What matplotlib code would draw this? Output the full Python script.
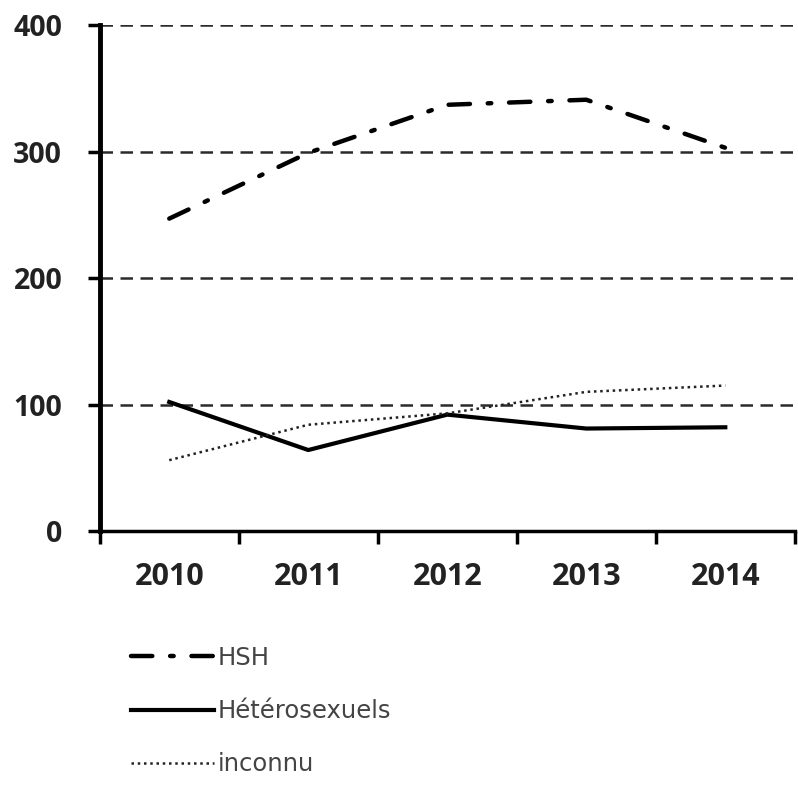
import matplotlib.pyplot as plt

annees = ['2010', '2011', '2012', '2013', '2014']
hsh = [247, 299, 337, 341, 303]
hetero = [102, 64, 92, 81, 82]
inconnu = [56, 84, 93, 110, 115]

plt.rcParams['font.family'] = ['Open Sans', 'DejaVu Sans']

fig = plt.figure(figsize=(7.98, 7.85), dpi=100)
ax = fig.add_axes([0.125, 0.3236, 0.871, 0.6444])

x = list(range(len(annees)))

# grille horizontale en tirets
for v in [100, 200, 300, 400]:
    ax.axhline(v, color='#2a2a2a', linewidth=1.8, linestyle=(0, (5, 3)), zorder=1)

ax.plot(x, hsh, color='black', linewidth=3.2, linestyle=(0, (4.8, 4, 0.8, 4)),
        dash_capstyle='round', label='HSH', zorder=3)
ax.plot(x, hetero, color='black', linewidth=3.0, linestyle='-', label='Hétérosexuels', zorder=3)
ax.plot(x, inconnu, color='#222222', linewidth=1.8, linestyle=(0, (1, 1.5)), label='inconnu', zorder=3)

ax.set_xlim(-0.5, 4.5)
ax.set_ylim(0, 400)
ax.set_yticks([0, 100, 200, 300, 400])
ax.set_xticks([i - 0.5 for i in range(6)])
ax.set_xticklabels([])
ax.set_xticks(x, minor=True)
ax.set_xticklabels(annees, minor=True)
ax.tick_params(axis='x', which='minor', length=0, pad=22, labelsize=22)
ax.tick_params(axis='x', which='major', length=9, width=2.5, direction='out')
ax.tick_params(axis='y', length=9, width=2.5, labelsize=20.5, pad=18)
for lab in ax.get_xticklabels(minor=True) + ax.get_yticklabels():
    lab.set_fontweight('bold')
    lab.set_color('#222222')

for s in ['top', 'right']:
    ax.spines[s].set_visible(False)
ax.spines['left'].set_linewidth(3.5)
ax.spines['bottom'].set_linewidth(2.5)

leg = fig.legend(loc='upper left', bbox_to_anchor=(0.137, 0.205), frameon=False,
                 prop={'family': 'DejaVu Sans', 'size': 17.5},
                 handlelength=3.4, handletextpad=0.15, labelspacing=1.2,
                 labelcolor='#444444')

fig.savefig('out.png', dpi=100)
